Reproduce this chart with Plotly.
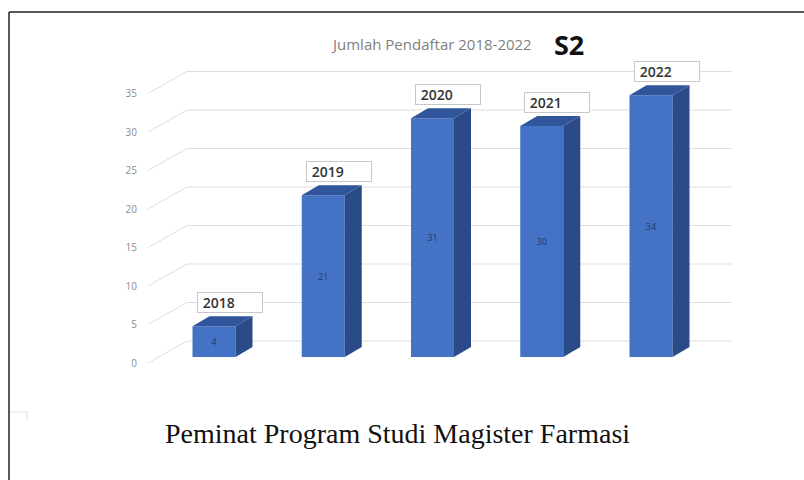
import plotly.graph_objects as go

# ---- data ----
years = ["2018", "2019", "2020", "2021", "2022"]
applicants = [4, 21, 31, 30, 34]
tick_values = [0, 5, 10, 15, 20, 25, 30, 35]
title_text = "Jumlah Pendaftar 2018-2022"
badge_text = "S2"
caption_text = "Peminat Program Studi Magister Farmasi"

# ---- style / geometry constants ----
W, H = 804, 480
PX_X = 109.25          # px per category step
PX_Y = 7.7             # px per unit
X0_PX, Y0_PX = 214, 357  # pixel of category 0 / value 0 (front plane)
DOM_L, DOM_R, DOM_T, DOM_B = 148, 735, 55, 372
bar_w = 43 / PX_X
depth_dx = 17 / PX_X
depth_dy = 10 / PX_Y
wall_dx_left = (187 - X0_PX) / PX_X
wall_right = (732 - X0_PX) / PX_X
wall_dy = (Y0_PX - 341) / PX_Y
front_dy = (Y0_PX - 363) / PX_Y

FRONT = "#4472c4"
SIDE = "#2b4a88"
TOP = "#30559a"

xmin = (DOM_L - X0_PX) / PX_X
xmax = (DOM_R - X0_PX) / PX_X
ymin = (Y0_PX - DOM_B) / PX_Y
ymax = (Y0_PX - DOM_T) / PX_Y

xs = list(range(len(years)))

fig = go.Figure()

# front faces
fig.add_trace(go.Bar(
    x=xs, y=applicants, width=bar_w,
    marker=dict(color=FRONT, line=dict(width=0)),
    text=[str(v) for v in applicants], textposition="inside",
    insidetextanchor="middle", textangle=0,
    textfont=dict(size=9, color="#1f3864", family="Open Sans"),
    hoverinfo="skip",
))

# side and top faces (pseudo 3D)
for x, v in zip(xs, applicants):
    r = x + bar_w / 2
    l = x - bar_w / 2
    fig.add_trace(go.Scatter(
        x=[r, r + depth_dx, r + depth_dx, r, r],
        y=[0, depth_dy, v + depth_dy, v, 0],
        mode="lines", fill="toself", fillcolor=SIDE,
        line=dict(width=0, color=SIDE), hoverinfo="skip"))
    fig.add_trace(go.Scatter(
        x=[l, r, r + depth_dx, l + depth_dx, l],
        y=[v, v, v + depth_dy, v + depth_dy, v],
        mode="lines", fill="toself", fillcolor=TOP,
        line=dict(width=0, color=TOP), hoverinfo="skip"))

# invisible trace to carry the label axis
fig.add_trace(go.Scatter(x=[0], y=[0], yaxis="y2", mode="markers",
                         marker=dict(opacity=0), hoverinfo="skip"))

shapes = []
# back wall gridlines + side wall diagonals
for t in tick_values:
    shapes.append(dict(
        type="path", xref="x", yref="y", layer="below",
        path=f"M {xmin},{t + front_dy} L {wall_dx_left},{t + wall_dy} L {wall_right},{t + wall_dy}",
        line=dict(color="#dedede", width=1)))

# page border
shapes.append(dict(type="line", xref="paper", yref="paper",
                   x0=9 / W, x1=1, y0=(H - 12) / H, y1=(H - 12) / H,
                   line=dict(color="#222", width=1.5)))
shapes.append(dict(type="line", xref="paper", yref="paper",
                   x0=9 / W, x1=9 / W, y0=0, y1=(H - 12) / H,
                   line=dict(color="#222", width=1.5)))
# faint corner mark
shapes.append(dict(type="path", xref="paper", yref="paper",
                   path=f"M {10 / W},{(H - 412) / H} L {27 / W},{(H - 412) / H} L {27 / W},{(H - 421) / H}",
                   line=dict(color="#e2e2e2", width=1)))

annotations = []
for x, v, yr in zip(xs, applicants, years):
    annotations.append(dict(
        x=x - bar_w / 2, y=v, xref="x", yref="y",
        xanchor="left", yanchor="bottom", xshift=4, yshift=13,
        text="&nbsp;" + yr, showarrow=False, align="left",
        width=62, height=17, borderpad=1,
        bordercolor="#c8c8c8", borderwidth=1, bgcolor="white",
        font=dict(size=14, color="#333333", family="Open Sans", weight=600)))

annotations.append(dict(
    x=431 / W, y=(H - 44) / H, xref="paper", yref="paper",
    text=title_text, showarrow=False, xanchor="center", yanchor="middle",
    font=dict(size=15, color="#7f7f7f", family="Open Sans")))
annotations.append(dict(
    x=569 / W, y=(H - 44) / H, xref="paper", yref="paper",
    text=badge_text, showarrow=False, xanchor="center", yanchor="middle",
    font=dict(size=27, color="#111111", family="Open Sans", weight="bold")))
annotations.append(dict(
    x=397 / W, y=(H - 433) / H, xref="paper", yref="paper",
    text=caption_text, showarrow=False, xanchor="center", yanchor="middle",
    font=dict(size=28, color="#111111", family="Liberation Serif")))

fig.update_layout(
    width=W, height=H,
    margin=dict(l=0, r=0, t=0, b=0),
    paper_bgcolor="white", plot_bgcolor="white",
    showlegend=False,
    xaxis=dict(domain=[DOM_L / W, DOM_R / W], range=[xmin, xmax],
               showgrid=False, zeroline=False, showticklabels=False,
               showline=False, fixedrange=True),
    yaxis=dict(domain=[(H - DOM_B) / H, (H - DOM_T) / H], range=[ymin, ymax],
               showgrid=False, zeroline=False, showticklabels=False,
               showline=False, fixedrange=True),
    yaxis2=dict(overlaying="y", side="left", anchor="x",
                range=[ymin - front_dy, ymax - front_dy],
                tickvals=tick_values, ticktext=[str(t) for t in tick_values],
                showgrid=False, zeroline=False, showline=False, ticks="",
                ticklabelstandoff=10, fixedrange=True,
                tickfont=dict(size=10, color="#8c8c8c", family="Open Sans")),
    shapes=shapes,
    annotations=annotations,
)

fig.write_html(
    "out.html",
    config={"displayModeBar": False},
    post_script="document.body.style.margin='0';document.body.style.overflow='hidden';",
)
